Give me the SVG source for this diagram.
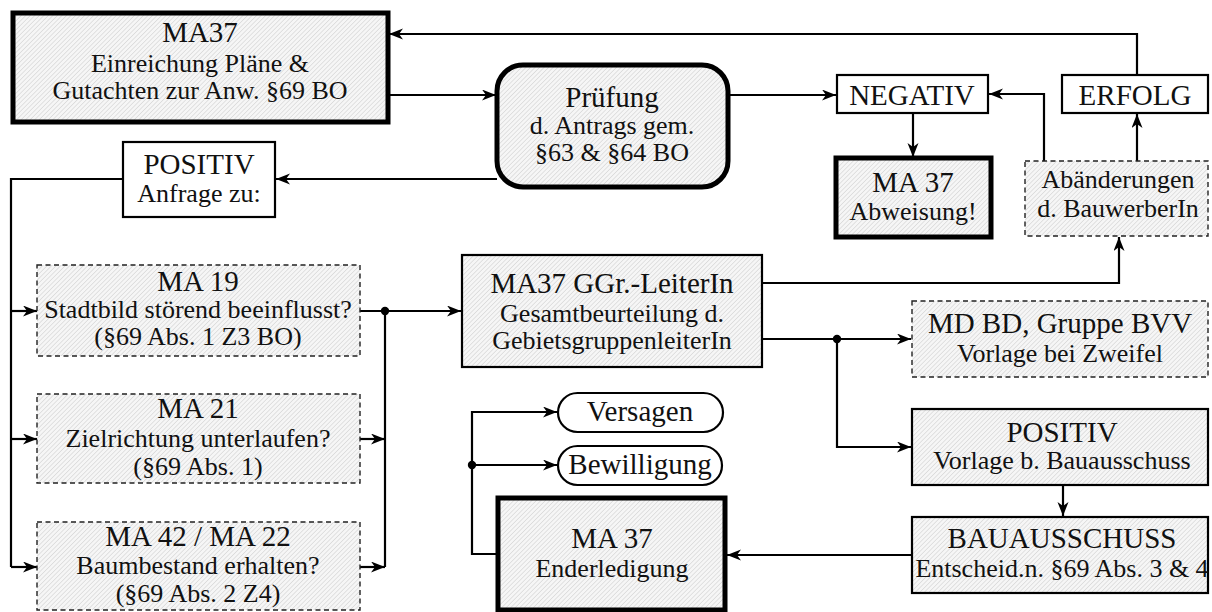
<svg xmlns="http://www.w3.org/2000/svg" width="1212" height="612" viewBox="0 0 1212 612" font-family="'Liberation Serif', 'DejaVu Serif', 'Times New Roman', serif">
<style>
text{font-family:'Liberation Serif','DejaVu Serif','Times New Roman',serif;fill:#111;text-anchor:middle}
.t{font-size:29px}
.s{font-size:26px}
.thick{stroke:#000;stroke-width:5}
.thin{stroke:#000;stroke-width:2.2}
.dash{stroke:#222;stroke-width:1.4;stroke-dasharray:5 3.5}
.hatch{fill:url(#hatch)}
.white{fill:#fff}
.conn path{fill:none;stroke:#000;stroke-width:2.2}
.arr{marker-end:url(#ah)}
</style>
<defs>
<pattern id="hatch" width="3.2" height="3.2" patternUnits="userSpaceOnUse" patternTransform="rotate(45)">
<rect width="3.2" height="3.2" fill="#f6f6f6"/>
<line x1="0" y1="0" x2="0" y2="3.2" stroke="#c6c6c6" stroke-width="0.9"/>
</pattern>
<marker id="ah" markerUnits="userSpaceOnUse" markerWidth="16" markerHeight="12" refX="14" refY="5.5" orient="auto">
<path d="M0,0 L14,5.5 L0,11 L4,5.5 z" fill="#000"/>
</marker>
</defs>
<g id="connectors" class="conn">
<path class="arr" d="M388,95 H496"/>
<path class="arr" d="M728,95 H836"/>
<path class="arr" d="M913,113 V157"/>
<path class="arr" d="M1044,161 V94 H989"/>
<path class="arr" d="M1137,161 V114"/>
<path class="arr" d="M1137,75 V34 H389"/>
<path class="arr" d="M497,179 H276"/>
<path d="M123,179 H11 V567"/>
<path class="arr" d="M11,567 H37"/>
<path class="arr" d="M11,311 H37"/>
<path class="arr" d="M11,439 H37"/>
<path class="arr" d="M360,311 H461"/>
<path class="arr" d="M360,439 H385"/>
<path class="arr" d="M360,567 H385"/>
<path d="M385,311 V567"/>
<path class="arr" d="M762,283 H1119 V237"/>
<path class="arr" d="M762,339 H911"/>
<path class="arr" d="M837,339 V447 H911"/>
<path class="arr" d="M1063,485 V516"/>
<path class="arr" d="M912,555 H727"/>
<path class="arr" d="M498,554 H472 V412 H557"/>
<path class="arr" d="M472,465 H557"/>
<circle cx="385" cy="311" r="4.2" fill="#000"/>
<circle cx="837" cy="339" r="4.2" fill="#000"/>
<circle cx="472" cy="465" r="4.2" fill="#000"/>
</g>
<g id="ma37_einreichung">
<rect x="13" y="13" width="375" height="109" class="hatch thick"/>
<text class="t" x="200" y="42">MA37</text>
<text class="s" x="200" y="72">Einreichung Pläne &amp;</text>
<text class="s" x="200" y="99">Gutachten zur Anw. §69 BO</text>
</g>
<g id="pruefung">
<rect x="497" y="65" width="231" height="122" rx="26" ry="26" class="hatch thick"/>
<text class="t" x="612" y="107">Prüfung</text>
<text class="s" x="612" y="134">d. Antrags gem.</text>
<text class="s" x="612" y="161">§63 &amp; §64 BO</text>
</g>
<g id="negativ">
<rect x="837" y="75" width="151" height="38" class="white thin"/>
<text class="t" x="912" y="105">NEGATIV</text>
</g>
<g id="erfolg">
<rect x="1062" y="75" width="146" height="38" class="white thin"/>
<text class="t" x="1135" y="105">ERFOLG</text>
</g>
<g id="ma37_abweisung">
<rect x="836" y="158" width="155" height="79" class="hatch thick"/>
<text class="t" x="913" y="192">MA 37</text>
<text class="s" x="913" y="220">Abweisung!</text>
</g>
<g id="abaenderungen">
<rect x="1025" y="161" width="183" height="75" class="hatch dash"/>
<text class="s" x="1118" y="188">Abänderungen</text>
<text class="s" x="1118" y="217">d. BauwerberIn</text>
</g>
<g id="positiv_anfrage">
<rect x="123" y="142" width="152" height="75" class="white thin"/>
<text class="t" x="199" y="174">POSITIV</text>
<text class="s" x="199" y="202">Anfrage zu:</text>
</g>
<g id="ma19">
<rect x="37" y="265" width="323" height="91" class="hatch dash"/>
<text class="t" x="198" y="291">MA 19</text>
<text class="s" x="198" y="318">Stadtbild störend beeinflusst?</text>
<text class="s" x="198" y="345">(§69 Abs. 1 Z3 BO)</text>
</g>
<g id="ma21">
<rect x="37" y="394" width="323" height="89" class="hatch dash"/>
<text class="t" x="198" y="418">MA 21</text>
<text class="s" x="198" y="447">Zielrichtung unterlaufen?</text>
<text class="s" x="198" y="475">(§69 Abs. 1)</text>
</g>
<g id="ma42_ma22">
<rect x="37" y="522" width="323" height="88" class="hatch dash"/>
<text class="t" x="198" y="546">MA 42 / MA 22</text>
<text class="s" x="198" y="574">Baumbestand erhalten?</text>
<text class="s" x="198" y="602">(§69 Abs. 2 Z4)</text>
</g>
<g id="ggr_leiterin">
<rect x="462" y="255" width="300" height="112" class="hatch thin"/>
<text class="t" x="612" y="293">MA37 GGr.-LeiterIn</text>
<text class="s" x="612" y="322">Gesamtbeurteilung d.</text>
<text class="s" x="612" y="349">GebietsgruppenleiterIn</text>
</g>
<g id="md_bd">
<rect x="912" y="301" width="296" height="76" class="hatch dash"/>
<text class="t" x="1060" y="333">MD BD, Gruppe BVV</text>
<text class="s" x="1060" y="362">Vorlage bei Zweifel</text>
</g>
<g id="positiv_vorlage">
<rect x="912" y="409" width="296" height="76" class="hatch thin"/>
<text class="t" x="1062" y="442">POSITIV</text>
<text class="s" x="1062" y="469">Vorlage b. Bauausschuss</text>
</g>
<g id="bauausschuss">
<rect x="912" y="517" width="296" height="76" class="hatch thin"/>
<text class="t" x="1062" y="548">BAUAUSSCHUSS</text>
<text class="s" x="1062" y="577">Entscheid.n. §69 Abs. 3 &amp; 4</text>
</g>
<g id="versagen">
<rect x="558" y="393" width="165" height="39" rx="19.5" ry="19.5" class="white thin"/>
<text class="t" x="640" y="421">Versagen</text>
</g>
<g id="bewilligung">
<rect x="558" y="446" width="164" height="39" rx="19.5" ry="19.5" class="white thin"/>
<text class="t" x="640" y="474">Bewilligung</text>
</g>
<g id="ma37_enderledigung">
<rect x="498" y="498" width="227" height="112" class="hatch thick"/>
<text class="t" x="612" y="548">MA 37</text>
<text class="s" x="612" y="577">Enderledigung</text>
</g>
</svg>
